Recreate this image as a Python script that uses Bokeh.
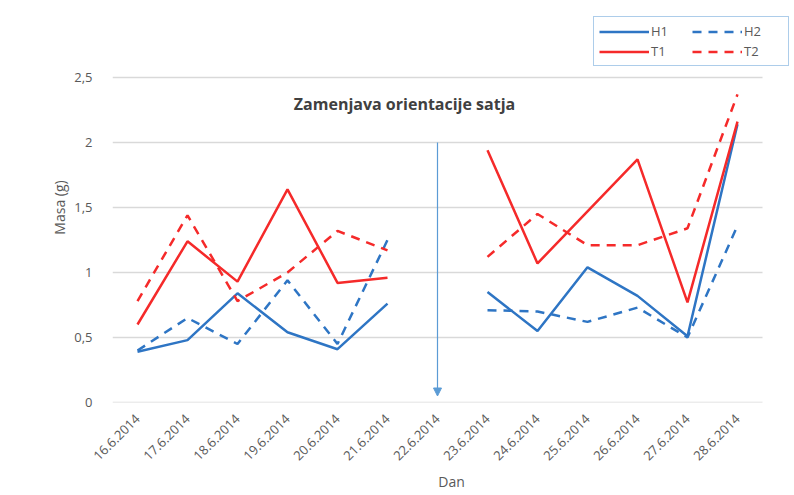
import math
from bokeh.plotting import figure
from bokeh.models import (Range1d, FixedTicker, Legend, LegendItem, Label, Arrow,
                          NormalHead, ColumnDataSource)
from bokeh.embed import file_html
from bokeh.resources import INLINE

dates = ["16.6.2014", "17.6.2014", "18.6.2014", "19.6.2014", "20.6.2014", "21.6.2014",
         "22.6.2014", "23.6.2014", "24.6.2014", "25.6.2014", "26.6.2014", "27.6.2014",
         "28.6.2014"]
nan = float("nan")
h1 = [0.39, 0.48, 0.84, 0.54, 0.41, 0.76, nan, 0.85, 0.55, 1.04, 0.82, 0.51, 2.14]
h2 = [0.40, 0.65, 0.45, 0.94, 0.45, 1.25, nan, 0.71, 0.70, 0.62, 0.73, 0.50, 1.36]
t1 = [0.60, 1.24, 0.93, 1.64, 0.92, 0.96, nan, 1.94, 1.07, 1.47, 1.87, 0.77, 2.16]
t2 = [0.78, 1.44, 0.78, 1.00, 1.32, 1.17, nan, 1.12, 1.45, 1.21, 1.21, 1.34, 2.37]
y_ticks = [0, 0.5, 1, 1.5, 2, 2.5]
y_tick_labels = ["0", "0,5", "1", "1,5", "2", "2,5"]
annotation_text = "Zamenjava orientacije satja"
arrow_index = 6
arrow_top = 2.0
arrow_bottom = 0.05

BLUE = "#2e75c4"
RED = "#f52a2a"
GRID = "#d9d9d9"
TXT = "#595959"
FONT = "Open Sans"

xs = list(range(len(dates)))
src = ColumnDataSource(dict(x=xs, h1=h1, h2=h2, t1=t1, t2=t2))
x_lo, x_hi = -0.5, len(dates) - 0.5

p = figure(width=794, height=495, output_backend="svg", toolbar_location=None,
           x_range=Range1d(x_lo, x_hi + 0.56), y_range=Range1d(0, 3.0),
           min_border_left=112, min_border_right=4, min_border_top=12,
           min_border_bottom=93)
p.outline_line_color = None
p.background_fill_color = "white"
p.border_fill_color = "white"

# horizontal grid lines drawn over the category span only
grid_src = ColumnDataSource(dict(y=y_ticks, x0=[x_lo] * len(y_ticks),
                                 x1=[x_hi] * len(y_ticks)))
p.segment(x0="x0", y0="y", x1="x1", y1="y", source=grid_src,
          line_color=GRID, line_width=1.5)

r_h1 = p.line("x", "h1", source=src, color=BLUE, line_width=2.5)
r_h2 = p.line("x", "h2", source=src, color=BLUE, line_width=2.5, line_dash="9 7")
r_t1 = p.line("x", "t1", source=src, color=RED, line_width=2.5)
r_t2 = p.line("x", "t2", source=src, color=RED, line_width=2.5, line_dash="9 7")

# axes
p.xaxis.ticker = FixedTicker(ticks=xs)
p.xaxis.major_label_overrides = {i: d for i, d in enumerate(dates)}
p.xaxis.major_label_orientation = math.pi / 4
p.xaxis.axis_line_color = None
p.xaxis.major_tick_line_color = None
p.xaxis.minor_tick_line_color = None
p.xaxis.major_label_standoff = 8
p.xaxis.axis_label = "Dan"
p.xaxis.axis_label_standoff = 5

p.yaxis.ticker = FixedTicker(ticks=y_ticks)
p.yaxis.major_label_overrides = {v: s for v, s in zip(y_ticks, y_tick_labels)}
p.yaxis.axis_line_color = None
p.yaxis.major_tick_line_color = None
p.yaxis.minor_tick_line_color = None
p.yaxis.major_label_standoff = 14
p.yaxis.axis_label = "Masa (g)"
p.yaxis.axis_label_standoff = 2

for ax in (p.xaxis[0], p.yaxis[0]):
    ax.major_label_text_font = FONT
    ax.major_label_text_font_size = "13px"
    ax.major_label_text_color = TXT
    ax.axis_label_text_font = FONT
    ax.axis_label_text_font_size = "14px"
    ax.axis_label_text_font_style = "normal"
    ax.axis_label_text_color = TXT

p.xgrid.grid_line_color = None
p.ygrid.grid_line_color = None

# annotation
p.add_layout(Label(x=5.34, y=2.3, text=annotation_text, text_align="center",
                   text_baseline="middle", text_font=FONT, text_font_size="16px",
                   text_font_style="bold", text_color="#404040"))
p.add_layout(Arrow(x_start=arrow_index, y_start=arrow_top, x_end=arrow_index,
                   y_end=arrow_bottom, line_color="#5b9bd5", line_width=1.2,
                   end=NormalHead(size=8, fill_color="#5b9bd5", line_color="#5b9bd5")))

legend = Legend(items=[LegendItem(label="H1", renderers=[r_h1]),
                       LegendItem(label="T1", renderers=[r_t1]),
                       LegendItem(label="H2", renderers=[r_h2]),
                       LegendItem(label="T2", renderers=[r_t2])],
                ncols=2, location=(481, 336), glyph_width=50, glyph_height=15,
                label_standoff=2, label_width=39, spacing=2, padding=5, margin=0,
                label_text_font=FONT, label_text_font_size="13px",
                label_text_color=TXT, border_line_color="#5b9bd5",
                border_line_width=1.5, background_fill_alpha=1)
p.add_layout(legend, "center")

open("out.html", "w").write(file_html(p, INLINE))
